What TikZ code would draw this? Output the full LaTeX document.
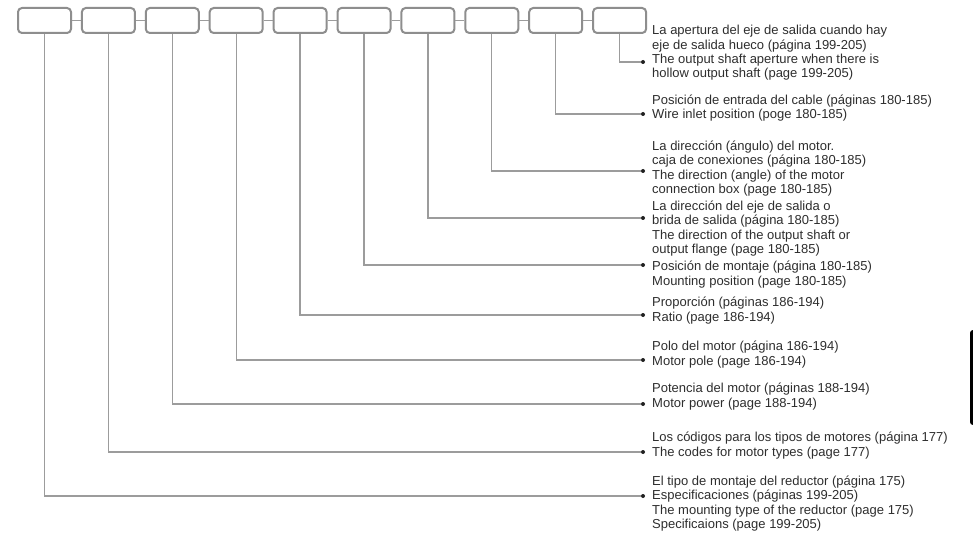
\documentclass[tikz,border=0pt]{standalone}
\usepackage{fontspec}
\setmainfont{Liberation Sans}
\begin{document}
\begin{tikzpicture}[x=1pt,y=-1pt,
  codebox/.style={draw=boxgray, line width=2pt, rounded corners=4pt, fill=white,
    minimum width=53pt, minimum height=25pt, inner sep=0pt},
  wire/.style={draw=wiregray, line width=1.3pt},
  dotnode/.style={circle, fill=dotcol, inner sep=0pt, minimum size=4pt},
  label/.style={anchor=west, align=left, inner sep=0pt, text=txtcol,
    font=\fontsize{13}{14.3}\selectfont}
]
\definecolor{boxgray}{HTML}{8E8E8E}
\definecolor{wiregray}{HTML}{9C9C9C}
\definecolor{dotcol}{HTML}{202020}
\definecolor{txtcol}{HTML}{2E2E2E}
\useasboundingbox (0,0) rectangle (973,537);
\fill[white] (0,0) rectangle (973,537);

% boxes
\foreach \i/\x in {1/44.5,2/108.4,3/172.3,4/236.2,5/300.1,6/364,7/427.9,8/491.8,9/555.7,10/619.6}
  \node[codebox] (b\i) at (\x,20.5) {};

% links between boxes
\foreach \i/\j in {1/2,2/3,3/4,4/5,5/6,6/7,7/8,8/9,9/10}
  \draw[wire] (b\i.east) -- (b\j.west);

% dots
\foreach \i/\y in {10/62,9/114,8/171,7/218,6/265,5/315,4/360,3/404,2/452,1/496}
  \node[dotnode] (d\i) at (643,\y) {};

% connectors
\foreach \i in {1,...,10}
  \draw[wire] (b\i.south) |- (d\i.west);

% labels
\node[label] (t10) at (652,53.5) {\strut La apertura del eje de salida cuando hay\\eje de salida hueco (página 199-205)\\The output shaft aperture when there is\\hollow output shaft (page 199-205)\strut};
\node[label] (t9) at (652,108.5) {\strut Posición de entrada del cable (páginas 180-185)\\Wire inlet position (poge 180-185)\strut};
\node[label] (t8) at (652,169) {\strut La dirección (ángulo) del motor.\\caja de conexiones (página 180-185)\\The direction (angle) of the motor\\connection box (page 180-185)\strut};
\node[label] (t7) at (652,229) {\strut La dirección del eje de salida o\\brida de salida (página 180-185)\\The direction of the output shaft or\\output flange (page 180-185)\strut};
\node[label] (t6) at (652,275) {\strut Posición de montaje (página 180-185)\\Mounting position (page 180-185)\strut};
\node[label] (t5) at (652,311) {\strut Proporción (páginas 186-194)\\Ratio (page 186-194)\strut};
\node[label] (t4) at (652,355) {\strut Polo del motor (página 186-194)\\Motor pole (page 186-194)\strut};
\node[label] (t3) at (652,397) {\strut Potencia del motor (páginas 188-194)\\Motor power (page 188-194)\strut};
\node[label] (t2) at (652,446) {\strut Los códigos para los tipos de motores (página 177)\\The codes for motor types (page 177)\strut};
\node[label] (t1) at (652,504) {\strut El tipo de montaje del reductor (página 175)\\Especificaciones (páginas 199-205)\\The mounting type of the reductor (page 175)\\Specificaions (page 199-205)\strut};

% black side tab
\begin{scope}
  \clip (0,0) rectangle (973,537);
  \fill[black, rounded corners=3pt] (970,330) rectangle (990,425);
\end{scope}
\end{tikzpicture}
\end{document}
